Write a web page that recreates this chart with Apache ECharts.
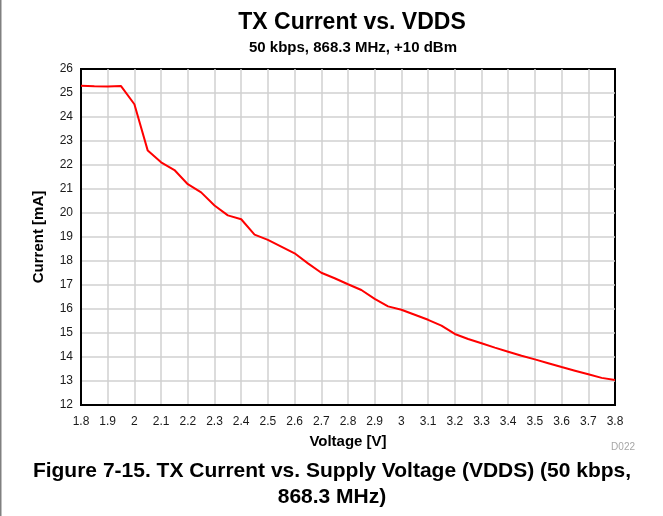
<!DOCTYPE html>
<html>
<head>
<meta charset="utf-8">
<title>TX Current vs. VDDS</title>
<script src="https://cdn.jsdelivr.net/npm/echarts@6/dist/echarts.min.js"></script>
<style>
  html, body { margin: 0; padding: 0; background: #fff; }
  #chart { width: 663px; height: 516px; }
</style>
</head>
<body>
<div id="chart"></div>
<script>
// supply voltage [V]
const voltage = [
  1.8, 1.85, 1.9, 1.95, 2.0, 2.05, 2.1, 2.15, 2.2, 2.25,
  2.3, 2.35, 2.4, 2.45, 2.5, 2.55, 2.6, 2.65, 2.7, 2.75,
  2.8, 2.85, 2.9, 2.95, 3.0, 3.05, 3.1, 3.15, 3.2, 3.25,
  3.3, 3.35, 3.4, 3.45, 3.5, 3.55, 3.6, 3.65, 3.7, 3.75, 3.8
]
// TX current [mA]
const current = [
  25.30, 25.28, 25.27, 25.29, 24.53, 22.60, 22.11, 21.79, 21.20, 20.86,
  20.31, 19.90, 19.74, 19.10, 18.88, 18.60, 18.32, 17.90, 17.51, 17.28,
  17.03, 16.79, 16.42, 16.11, 15.97, 15.76, 15.55, 15.31, 14.96, 14.75,
  14.57, 14.39, 14.22, 14.05, 13.90, 13.74, 13.58, 13.43, 13.28, 13.13, 13.04
]

const font = "'Liberation Sans', Arial, sans-serif"
const chart = echarts.init(document.getElementById('chart'), null, { renderer: 'canvas' })

const option = {
  animation: false,
  textStyle: { fontFamily: font },
  title: [
    {
      text: 'TX Current vs. VDDS',
      left: 347,
      top: 6,
      textAlign: 'center',
      textStyle: { fontFamily: font, fontSize: 23, fontWeight: 'bold', color: '#000' }
    },
    {
      text: '50 kbps, 868.3 MHz, +10 dBm',
      left: 348,
      top: 35,
      textAlign: 'center',
      textStyle: { fontFamily: font, fontSize: 15, fontWeight: 'bold', color: '#000' }
    }
  ],
  grid: {
    left: 81,
    right: 48,
    top: 69,
    bottom: 111,
    show: true,
    borderColor: '#000',
    borderWidth: 2
  },
  xAxis: {
    type: 'value',
    min: 1.8,
    max: 3.8,
    interval: 0.1,
    name: 'Voltage [V]',
    nameLocation: 'middle',
    nameGap: 29,
    nameTextStyle: { fontFamily: font, fontSize: 15, fontWeight: 'bold', color: '#000' },
    axisLine: { show: true, lineStyle: { color: '#000', width: 2 } },
    axisTick: { show: false },
    axisLabel: {
      margin: 11,
      fontSize: 12,
      color: '#1a1a1a',
      fontFamily: font,
      formatter: v => String(+v.toFixed(1))
    },
    splitLine: { show: true, showMinLine: false, showMaxLine: false, lineStyle: { color: '#d0d0d0', width: 1.5 } }
  },
  yAxis: {
    type: 'value',
    min: 12,
    max: 26,
    interval: 1,
    name: 'Current [mA]',
    nameLocation: 'middle',
    nameGap: 35,
    nameTextStyle: { fontFamily: font, fontSize: 15, fontWeight: 'bold', color: '#000' },
    axisLine: { show: true, lineStyle: { color: '#000', width: 2 } },
    axisTick: { show: false },
    axisLabel: { margin: 8, fontSize: 12, color: '#1a1a1a', fontFamily: font },
    splitLine: { show: true, showMinLine: false, showMaxLine: false, lineStyle: { color: '#d0d0d0', width: 1.5 } }
  },
  series: [
    {
      name: 'TX Current',
      type: 'line',
      showSymbol: false,
      symbol: 'none',
      lineStyle: { color: '#ff0000', width: 2 },
      itemStyle: { color: '#ff0000' },
      data: voltage.map((v, i) => [v, current[i]])
    }
  ],
  graphic: [
    // page edge on the left
    { type: 'rect', left: 0, top: 0, shape: { width: 1.5, height: 516 }, style: { fill: '#808080' } },
    {
      type: 'text', right: 28, top: 442,
      style: { text: 'D022', font: '10px ' + font, fill: '#a6a6a6' }
    },
    {
      type: 'text', x: 332, y: 471,
      style: {
        text: 'Figure 7-15. TX Current vs. Supply Voltage (VDDS) (50 kbps,',
        font: 'bold 21px ' + font, fill: '#000', align: 'center', verticalAlign: 'middle'
      }
    },
    {
      type: 'text', x: 332, y: 497,
      style: {
        text: '868.3 MHz)',
        font: 'bold 21px ' + font, fill: '#000', align: 'center', verticalAlign: 'middle'
      }
    }
  ]
}

chart.setOption(option)
</script>
</body>
</html>
